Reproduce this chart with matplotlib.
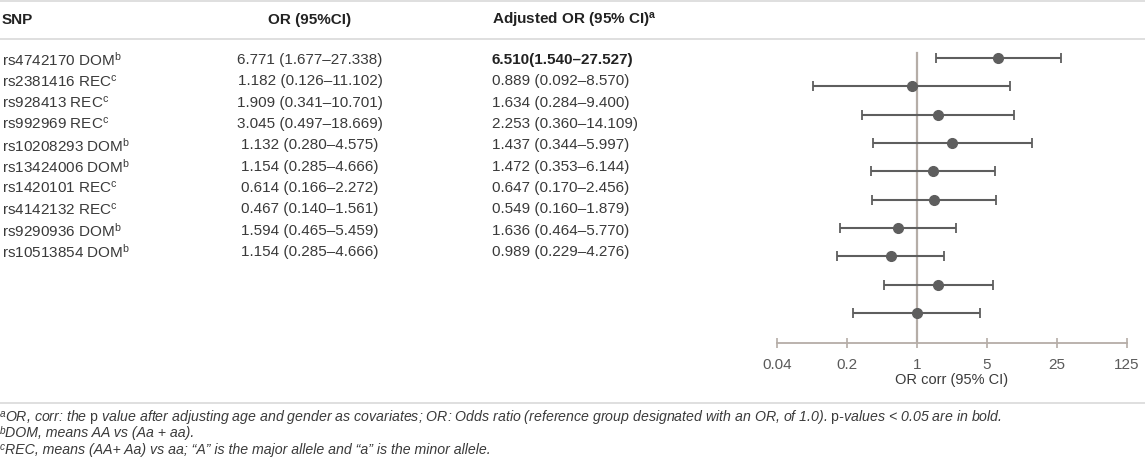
import matplotlib
matplotlib.use("Agg")
import matplotlib.pyplot as plt
from matplotlib.lines import Line2D

plt.rcParams["font.family"] = ["Liberation Sans", "DejaVu Sans"]
plt.rcParams["mathtext.fontset"] = "custom"
plt.rcParams["mathtext.rm"] = "Liberation Sans"
plt.rcParams["mathtext.it"] = "Liberation Sans:italic"
plt.rcParams["mathtext.bf"] = "Liberation Sans:bold"

# table data
snps = ["rs4742170", "rs2381416", "rs928413", "rs992969", "rs10208293",
        "rs13424006", "rs1420101", "rs4142132", "rs9290936", "rs10513854"]
models = ["DOM", "REC", "REC", "REC", "DOM", "DOM", "REC", "REC", "DOM", "DOM"]
or_est = [6.771, 1.182, 1.909, 3.045, 1.132, 1.154, 0.614, 0.467, 1.594, 1.154]
or_lo = [1.677, 0.126, 0.341, 0.497, 0.280, 0.285, 0.166, 0.140, 0.465, 0.285]
or_hi = [27.338, 11.102, 10.701, 18.669, 4.575, 4.666, 2.272, 1.561, 5.459, 4.666]
adj_est = [6.510, 0.889, 1.634, 2.253, 1.437, 1.472, 0.647, 0.549, 1.636, 0.989]
adj_lo = [1.540, 0.092, 0.284, 0.360, 0.344, 0.353, 0.170, 0.160, 0.464, 0.229]
adj_hi = [27.527, 8.570, 9.400, 14.109, 5.997, 6.144, 2.456, 1.879, 5.770, 4.276]
sig_rows = [0]  # p < 0.05, shown in bold
model_note = {"DOM": "b", "REC": "c"}

headers = ["SNP", "OR (95%CI)", r"Adjusted OR (95% CI)$^{\mathbf{a}}$"]
axis_ticks = [0.04, 0.2, 1, 5, 25, 125]
axis_label = "OR corr (95% CI)"
note_marks = ["a", "b", "c"]
footnotes = [
    r"OR, corr: the $\mathrm{p}$ value after adjusting age and gender as covariates; "
    r"OR: Odds ratio (reference group designated with an OR, of 1.0). $\mathrm{p}$-values < 0.05 are in bold.",
    "DOM, means AA vs (Aa + aa).",
    "REC, means (AA+ Aa) vs aa; “A” is the major allele and “a” is the minor allele.",
]

W, H = 1145, 468
TXT = "#3a3a3a"
HEAD = "#222222"
RULE = "#d6d6d6"
DARK = "#5e5e5e"
LIGHT = "#b5ada7"

fig = plt.figure(figsize=(W / 100, H / 100), dpi=100)

# background axes in pixel units for the table part
bg = fig.add_axes([0, 0, 1, 1])
bg.set_xlim(0, W)
bg.set_ylim(H, 0)
bg.axis("off")

for y in (1, 39, 403):
    bg.add_line(Line2D([0, W], [y, y], color=RULE, lw=1.1))

bg.text(2, 20, headers[0], fontsize=11, fontweight="bold", color=HEAD, va="center")
bg.text(310, 20, headers[1], fontsize=11, fontweight="bold", color=HEAD, va="center", ha="center")
bg.text(492, 20, headers[2], fontsize=11, fontweight="bold", color=HEAD, va="center")

row0, row_step = 60, 21.33
for i, snp in enumerate(snps):
    y = row0 + i * row_step
    bg.text(2, y, f"{snp} {models[i]}$^{{\\mathrm{{{model_note[models[i]]}}}}}$",
            fontsize=11, color=TXT, va="center")
    bg.text(310, y, f"{or_est[i]:.3f} ({or_lo[i]:.3f}–{or_hi[i]:.3f})",
            fontsize=11, color=TXT, va="center", ha="center")
    if i in sig_rows:
        bg.text(492, y, f"{adj_est[i]:.3f}({adj_lo[i]:.3f}–{adj_hi[i]:.3f})",
                fontsize=11, color=HEAD, va="center", fontweight="bold")
    else:
        bg.text(492, y, f"{adj_est[i]:.3f} ({adj_lo[i]:.3f}–{adj_hi[i]:.3f})",
                fontsize=11, color=TXT, va="center")

for k, note in enumerate(footnotes):
    y = 417 + k * 16.5
    bg.text(0, y - 3, note_marks[k], fontsize=7.2, style="italic", color=TXT, va="center")
    bg.text(5, y, note, fontsize=10.2, style="italic", color=TXT, va="center")

# forest plot
x0, x1 = 777, 1127
top, bottom = 45, 343
ax = fig.add_axes([x0 / W, 1 - bottom / H, (x1 - x0) / W, (bottom - top) / H])
ax.patch.set_alpha(0)
ypos = list(range(len(adj_est)))
xerr = [[e - l for e, l in zip(adj_est, adj_lo)], [h - e for e, h in zip(adj_est, adj_hi)]]
ax.axvline(1, ymin=0, ymax=(bottom - 53) / (bottom - top), color=LIGHT, lw=1.6, zorder=1)
ax.errorbar(adj_est, ypos, xerr=xerr, fmt="o", color=DARK, ecolor=DARK,
            elinewidth=1.5, capsize=3.6, capthick=1.3, markersize=7, zorder=3)
ax.set_xscale("log")
ax.set_xlim(axis_ticks[0], axis_ticks[-1])
ax.set_ylim(9 + 30 / 28.3, -13 / 28.3)
ax.set_xticks(axis_ticks)
ax.set_xticklabels([str(t) for t in axis_ticks])
ax.minorticks_off()
ax.set_yticks([])
for s in ("top", "right", "left"):
    ax.spines[s].set_visible(False)
ax.spines["bottom"].set_color(LIGHT)
ax.spines["bottom"].set_linewidth(1.3)
ax.tick_params(axis="x", direction="inout", length=7, width=1.2, color=LIGHT,
               labelsize=11, labelcolor="#5a5a5a", pad=7)
ax.set_xlabel(axis_label, fontsize=10.5, color="#3a3a3a", labelpad=1)

fig.savefig("out.png", dpi=100)
